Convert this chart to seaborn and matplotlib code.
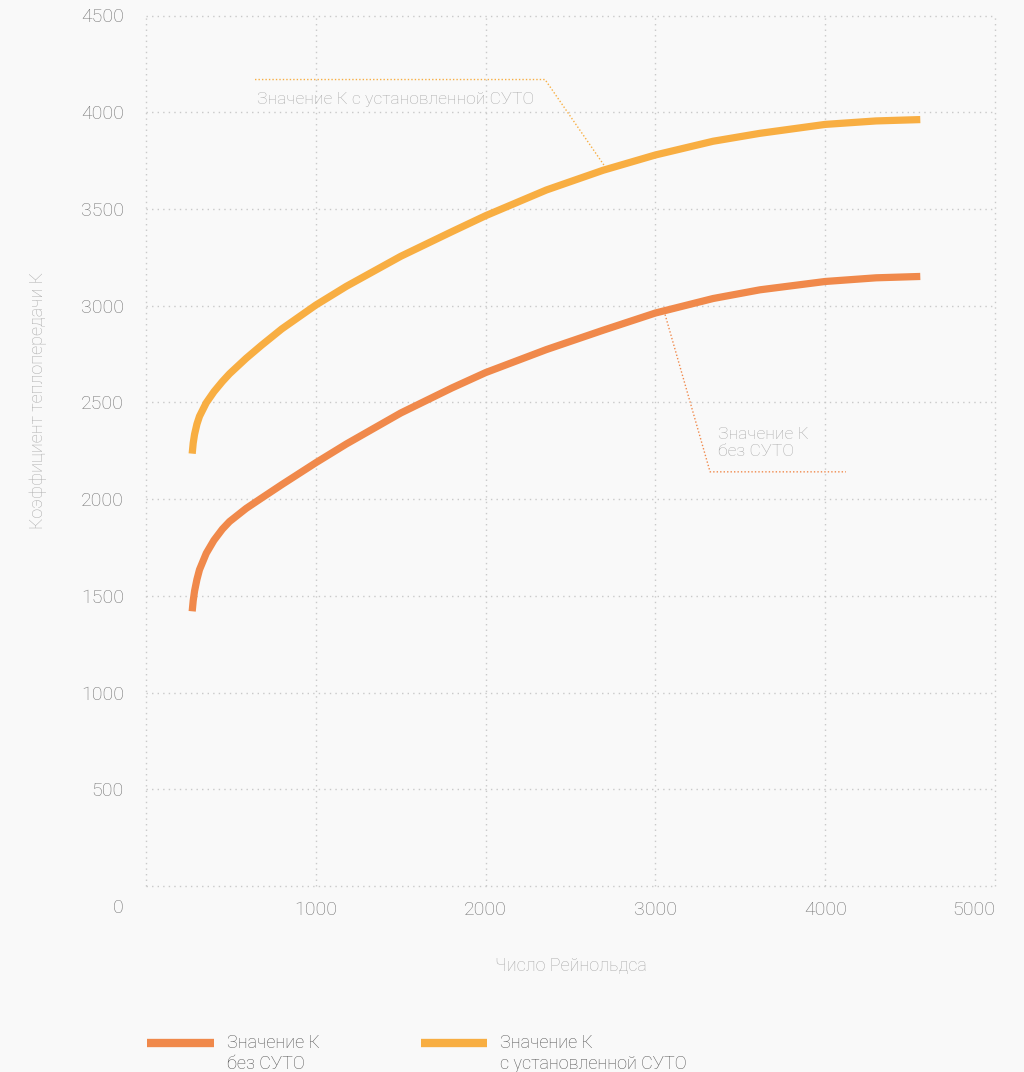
import numpy as np
import pandas as pd
import seaborn as sns
import matplotlib
matplotlib.use("Agg")
import matplotlib.pyplot as plt
from matplotlib.lines import Line2D
from matplotlib.legend_handler import HandlerLine2D

# ---- data ----
reynolds = [272, 278, 286, 300, 315, 355, 400, 450, 492, 590, 680, 800,
            1000, 1180, 1500, 1800, 2000, 2358, 2692, 3000, 3340, 3616,
            4000, 4300, 4560]
k_without = [1420, 1475, 1525, 1585, 1635, 1720, 1787, 1845, 1884, 1952,
             2005, 2075, 2188, 2285, 2445, 2574, 2654, 2773, 2873, 2962,
             3037, 3082, 3125, 3144, 3151]
k_with = [2235, 2290, 2335, 2388, 2428, 2498, 2555, 2608, 2648, 2728,
          2795, 2880, 3003, 3100, 3255, 3382, 3465, 3598, 3700, 3779,
          3850, 3891, 3937, 3955, 3962]
series_names = ["Значение К\nбез СУТО", "Значение К\nс установленной СУТО"]
x_ticks = [0, 1000, 2000, 3000, 4000, 5000]
x_tick_labels = ["", "1000", "2000", "3000", "4000", "5000"]
y_ticks = [0, 500, 1000, 1500, 2000, 2500, 3000, 3500, 4000, 4500]
y_tick_labels = ["", "500", "1000", "1500", "2000", "2500", "3000", "3500", "4000", "4500"]
x_label = "Число Рейнольдса"
y_label = "Коэффициент теплопередачи К"
note_with = "Значение К с установленной СУТО"
note_without = "Значение К\nбез СУТО"

colors = ["#F0894B", "#F8AE42"]
bg = "#F9F9F9"
tick_color = "#727272"
soft_text = "#ababab"

df = pd.concat([
    pd.DataFrame({"Re": reynolds, "K": k_without, "series": series_names[0]}),
    pd.DataFrame({"Re": reynolds, "K": k_with, "series": series_names[1]}),
])

sns.set_theme(style="white")
plt.rcParams["font.family"] = ["Roboto", "DejaVu Sans"]
plt.rcParams["font.weight"] = "light"

fig = plt.figure(figsize=(10.24, 10.72), dpi=100, facecolor=bg)
ax = fig.add_axes([146 / 1024, 1 - 886 / 1072, (995 - 146) / 1024, (886 - 15.5) / 1072])
ax.set_facecolor(bg)

sns.lineplot(data=df, x="Re", y="K", hue="series", palette=colors,
             linewidth=5.2, legend=False, ax=ax, solid_capstyle="butt",
             solid_joinstyle="round")

ax.set_xlim(0, 5000)
ax.set_ylim(0, 4500)
ax.set_xticks(x_ticks)
ax.set_xticklabels(x_tick_labels)
ax.set_yticks(y_ticks)
ax.set_yticklabels(y_tick_labels)
ax.tick_params(axis="both", length=0, labelsize=14, labelcolor=tick_color)
ax.tick_params(axis="y", pad=16)
ax.tick_params(axis="x", pad=11)
xl = ax.get_xticklabels()
xl[-1].set_horizontalalignment("right")
for s in ax.spines.values():
    s.set_visible(False)
ax.grid(True, color="#c9c9c9", linestyle=(0, (1, 3)), linewidth=1)
ax.set_axisbelow(True)
for gl in ax.get_xgridlines() + ax.get_ygridlines():
    gl.set_clip_on(False)

ax.annotate("0", xy=(0, 0), xycoords="data", xytext=(-22, -22),
            textcoords="offset pixels", ha="right", va="center",
            fontsize=14, color=tick_color, fontweight="light")

ax.set_xlabel(x_label, fontsize=13, color=soft_text, labelpad=27, fontweight="light")
ax.set_ylabel(y_label, fontsize=13, color=soft_text, fontweight="light")
ax.yaxis.set_label_coords(-0.117, 0.558)

# leader lines
ax.plot([642, 2350, 2703], [4169, 4169, 3719], color=colors[1], lw=1,
        linestyle=(0, (1, 1.5)), zorder=1)
ax.plot([3057, 3322, 4122], [2954, 2141, 2141], color=colors[0], lw=1,
        linestyle=(0, (1, 1.5)), zorder=1)
ax.text(654, 4066, note_with, fontsize=12.6, color=soft_text, ha="left",
        va="center", fontweight="light")
ax.text(3369, 2290, note_without, fontsize=12.6, color=soft_text, ha="left",
        va="center", fontweight="light", linespacing=1.2)


class RaisedLineHandler(HandlerLine2D):
    """Legend line drawn level with the first text line."""

    def __init__(self, shift=0.0, **kw):
        super().__init__(**kw)
        self.shift = shift

    def create_artists(self, legend, orig_handle, xdescent, ydescent,
                       width, height, fontsize, trans):
        arts = super().create_artists(legend, orig_handle, xdescent, ydescent,
                                      width, height, fontsize, trans)
        for a in arts:
            a.set_ydata(np.asarray(a.get_ydata(), dtype=float) + self.shift * fontsize)
        return arts


handles = [Line2D([], [], color=c, linewidth=6, solid_capstyle="butt") for c in colors]
leg = fig.legend(handles, series_names, loc="upper left",
                 bbox_to_anchor=(131 / 1024, 1 - 1018 / 1072), ncol=2,
                 frameon=False, fontsize=13, handlelength=3.7,
                 handletextpad=0.7, columnspacing=5.6,
                 labelcolor="#555555",
                 handler_map={Line2D: RaisedLineHandler(shift=0.62)})
for t in leg.get_texts():
    t.set_linespacing(1.2)

fig.savefig("out.png", dpi=100, facecolor=bg)
